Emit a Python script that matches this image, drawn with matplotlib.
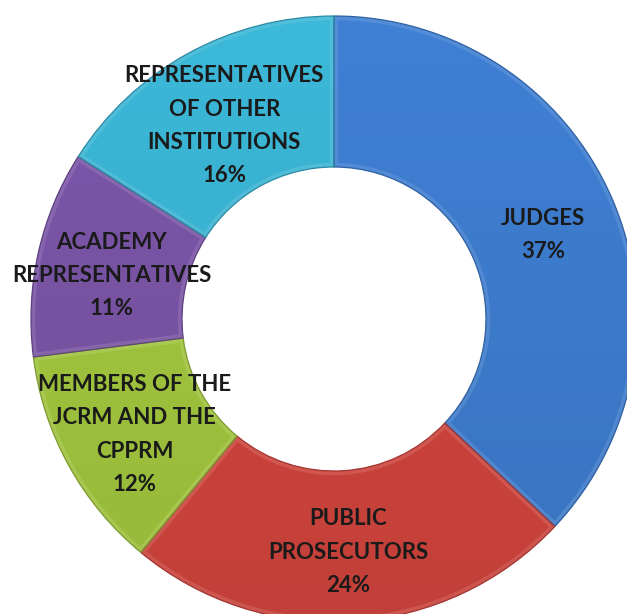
import numpy as np
import matplotlib.pyplot as plt
import matplotlib.colors as mcolors
from matplotlib.patches import Wedge

labels = ['JUDGES', 'PUBLIC\nPROSECUTORS', 'MEMBERS OF THE\nJCRM AND THE\nCPPRM',
          'ACADEMY\nREPRESENTATIVES', 'REPRESENTATIVES\nOF OTHER\nINSTITUTIONS']
shares = [37, 24, 12, 11, 16]
colors = ['#3f80d4', '#d7473f', '#a6cc40', '#7d57aa', '#3cb8d8']

W, H = 627, 614
cx, cy = 334, 319      # donut centre in pixels (from top-left)
R_out, R_in = 303, 152

fig = plt.figure(figsize=(W / 100, H / 100), dpi=100)
ax = fig.add_axes([0, 0, 1, 1])

def shade(c, f):
    r, g, b = mcolors.to_rgb(c)
    if f < 1:
        return (r * f, g * f, b * f)
    return (r + (1 - r) * (f - 1), g + (1 - g) * (f - 1), b + (1 - b) * (f - 1))

wedges, _ = ax.pie(shares, colors=colors, startangle=90, counterclock=False,
                   radius=R_out, center=(0, 0), frame=True,
                   wedgeprops=dict(width=R_out - R_in, linewidth=0))

# light vertical shading + bevel, clipped to each wedge
grad = np.linspace(0, 1, 256).reshape(-1, 1)
for w, c in zip(wedges, colors):
    im = ax.imshow(np.dstack([np.zeros_like(grad)] * 3 + [0.10 * grad]),
                   extent=(-R_out, R_out, -R_out, R_out), origin='upper',
                   aspect='auto', zorder=w.get_zorder() + 0.1)
    im.set_clip_path(w)
    bev = Wedge((0, 0), R_out, w.theta1, w.theta2, width=R_out - R_in, fill=False,
                edgecolor=shade(c, 1.3), lw=6, alpha=0.35,
                zorder=w.get_zorder() + 0.2)
    ax.add_patch(bev)
    bev.set_clip_path(w)
    edge = Wedge((0, 0), R_out, w.theta1, w.theta2, width=R_out - R_in, fill=False,
                 edgecolor=shade(c, 0.75), lw=0.9, zorder=w.get_zorder() + 0.3)
    ax.add_patch(edge)

ax.set_xlim(-cx, W - cx)
ax.set_ylim(-(H - cy), cy)
ax.set_aspect('equal')
ax.axis('off')

r_lab = (R_out + R_in) / 2
for w, lab, s in zip(wedges, labels, shares):
    ang = np.deg2rad((w.theta1 + w.theta2) / 2)
    x, y = r_lab * np.cos(ang), r_lab * np.sin(ang) - 6
    ax.text(x, y, f'{lab}\n{s}%', ha='center', va='center', fontsize=16,
            fontweight='bold', family=['Lato', 'DejaVu Sans'], color='#1a1a1a',
            linespacing=1.72, zorder=10)

fig.savefig('out.png', dpi=100)
